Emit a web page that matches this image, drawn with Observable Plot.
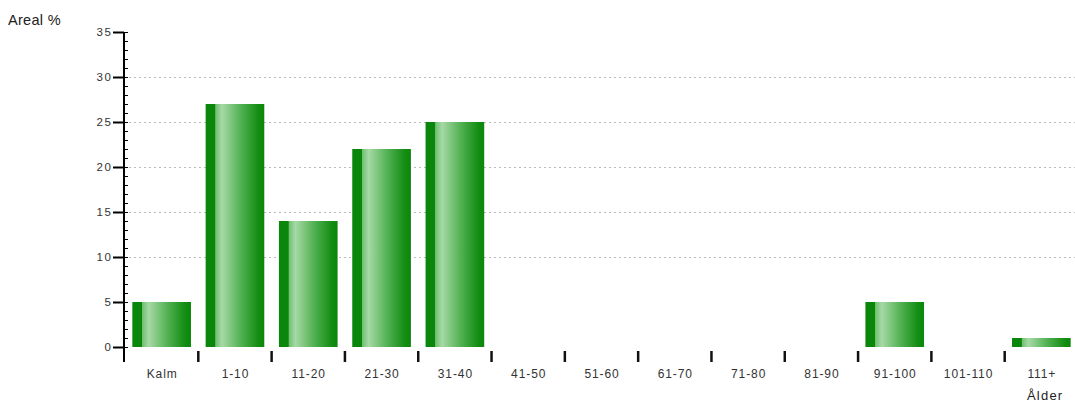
<!DOCTYPE html>
<html><head><meta charset="utf-8">
<script src="https://cdn.jsdelivr.net/npm/d3@7"></script>
<script src="https://cdn.jsdelivr.net/npm/@observablehq/plot@0.6"></script>
<style>
body{margin:0;background:#fff;font-family:"Liberation Sans",Arial,sans-serif;}
#wrap{position:relative;width:1075px;height:405px;}
#ylab{position:absolute;left:8px;top:12px;font-size:14.5px;color:#222;letter-spacing:0.3px;}
#xlab{position:absolute;left:1027px;top:388px;font-size:13px;color:#222;letter-spacing:1.2px;}
g[aria-label="y-axis tick label"] text{letter-spacing:1.6px;}
g[aria-label="x-axis tick label"] text{letter-spacing:0.9px;}
</style></head>
<body><div id="wrap"><div id="ylab">Areal %</div><div id="chart"></div><div id="xlab">Ålder</div></div>
<script>
const categories = ["Kalm","1-10","11-20","21-30","31-40","41-50","51-60","61-70","71-80","81-90","91-100","101-110","111+"];
const values = [5,27,14,22,25,0,0,0,0,0,5,0,1];
const majorTicks = [0,5,10,15,20,25,30,35];
const gridTicks = [10,15,20,25,30];
const minorTicks = d3.range(0,36);

const data = categories.map((c,i)=>({cat:c, value:values[i]}));

const axisLine = (index, scales) => {
  const g = d3.create("svg:g");
  const x = 124;
  g.append("line").attr("x1",x).attr("x2",x)
    .attr("y1",scales.y(35)).attr("y2",scales.y(0)+15)
    .attr("stroke","#000").attr("stroke-width",2);
  return g.node();
};
const boundaryTicks = (index, scales) => {
  const g = d3.create("svg:g");
  const step = scales.x(categories[1]) - scales.x(categories[0]);
  let bw = scales.x.bandwidth;
  if (typeof bw === "function") bw = bw();
  if (!(bw > 0)) bw = step * 0.8;
  const gap = (step - bw)/2;
  const y0 = scales.y(0);
  categories.slice(1).forEach(c => {
    const x = scales.x(c) - gap;
    g.append("line").attr("x1",x).attr("x2",x).attr("y1",y0+4).attr("y2",y0+15)
      .attr("stroke","#111").attr("stroke-width",2.5);
  });
  return g.node();
};

const chart = Plot.plot({
  width: 1075,
  height: 405,
  marginLeft: 124,
  marginRight: 0,
  marginTop: 32,
  marginBottom: 58,
  style: {fontFamily: '"Liberation Sans", Arial, sans-serif', fontSize: "11px", color: "#222", background: "#fff"},
  x: {domain: categories, range: [125, 1078], paddingInner: 0.2, paddingOuter: 0.1, align: 0.5, round: false},
  y: {domain: [0,35], range: [347, 32]},
  marks: [
    Plot.ruleY(gridTicks, {stroke: "#bbb", strokeDasharray: "2,3", strokeWidth: 1}),
    Plot.barY(data.filter(d=>d.value>0), {x: "cat", y: "value", fill: "url(#barGrad)"}),
    axisLine,
    Plot.axisY(minorTicks, {anchor: "left", tickSize: 4, dx: 4, text: null, label: null, stroke: "#000", strokeWidth: 1}),
    Plot.axisY(majorTicks, {anchor: "left", tickSize: 11, tickPadding: 1, stroke: "#000", strokeWidth: 2, fill: "#333", fontSize: 11.5, label: null}),
    boundaryTicks,
    Plot.axisX({tickSize: 0, tickPadding: 22, fill: "#333", fontSize: 12, label: null})
  ]
});

const defs = d3.select(chart).insert("defs", ":first-child");
const grad = defs.append("linearGradient").attr("id","barGrad").attr("x1","0").attr("x2","1").attr("y1","0").attr("y2","0");
[[0,"#0a870a"],[0.16,"#0a870a"],[0.17,"#6fc06f"],[0.28,"#a6d9a6"],[0.6,"#52b152"],[0.9,"#138d13"],[1,"#0a870a"]]
  .forEach(([o,c])=>grad.append("stop").attr("offset",o).attr("stop-color",c));

document.getElementById("chart").appendChild(chart);
</script></body></html>
